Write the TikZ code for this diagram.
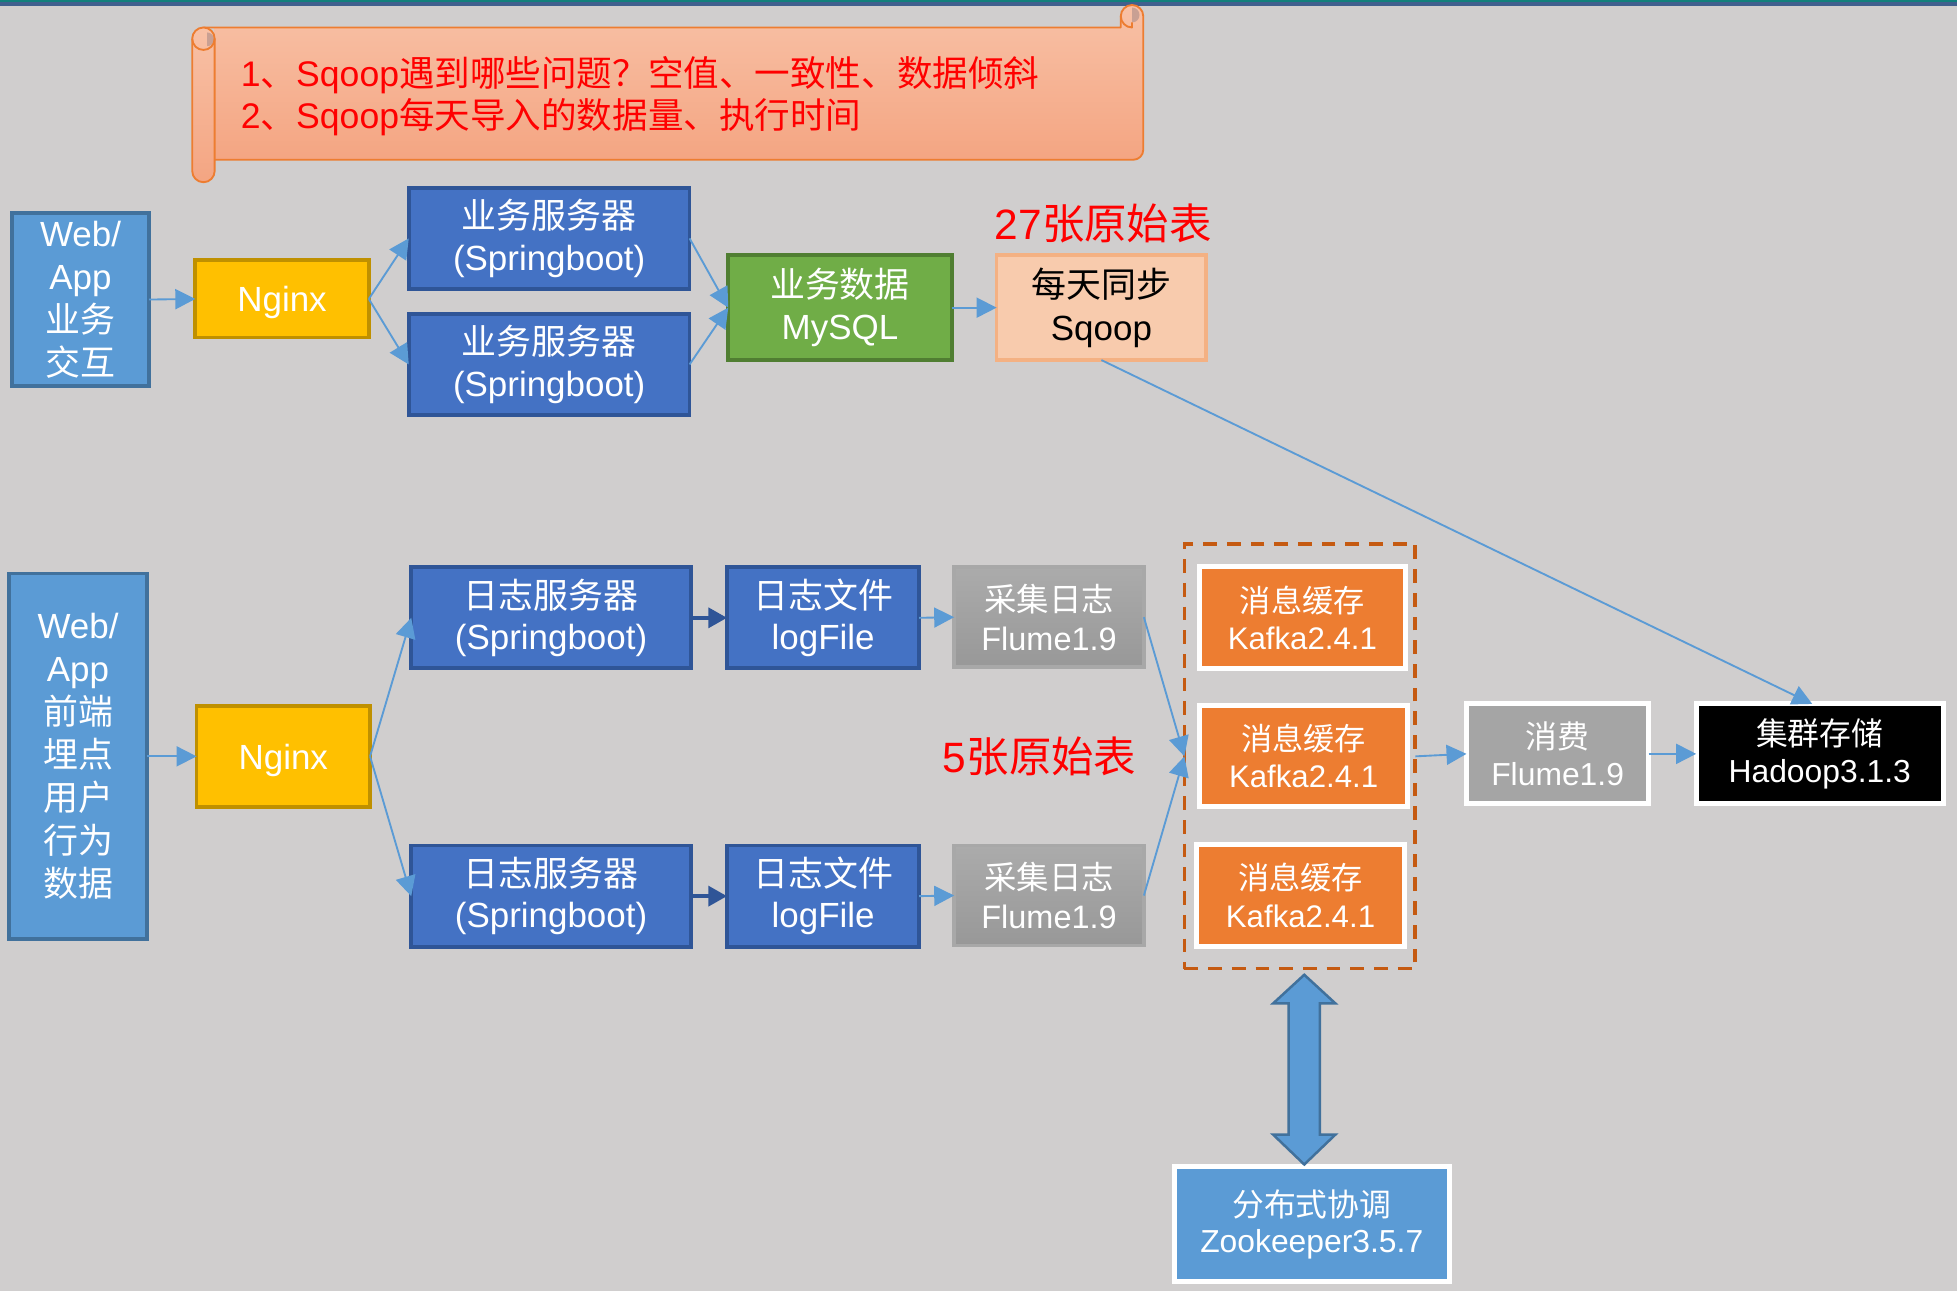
\documentclass[tikz,border=0pt]{standalone}
\usepackage{fontspec}
\setmainfont{Liberation Sans}
\newfontfamily\cjk{Noto Sans CJK SC}
\usetikzlibrary{arrows.meta,calc}
\newcommand\zh[1]{{\cjk #1}}
\definecolor{bgc}{HTML}{D0CECE}
\definecolor{stripteal}{HTML}{12807C}
\definecolor{stripblue}{HTML}{40608E}
\definecolor{bantop}{HTML}{F8C1A6}
\definecolor{banbot}{HTML}{F4A582}
\definecolor{banline}{HTML}{ED7D31}
\definecolor{banshadow}{HTML}{C9A093}
\definecolor{lbfill}{HTML}{5B9BD5}
\definecolor{lbline}{HTML}{41719C}
\definecolor{ngfill}{HTML}{FFC000}
\definecolor{ngline}{HTML}{BF9000}
\definecolor{srvfill}{HTML}{4472C4}
\definecolor{srvline}{HTML}{2F5597}
\definecolor{myfill}{HTML}{70AD47}
\definecolor{myline}{HTML}{507E32}
\definecolor{sqfill}{HTML}{F8CBAD}
\definecolor{sqline}{HTML}{F4B183}
\definecolor{kafill}{HTML}{ED7D31}
\definecolor{dashc}{HTML}{C55A11}
\definecolor{grayfill}{HTML}{A5A5A5}
\definecolor{graytop}{HTML}{ABABAB}
\definecolor{graybot}{HTML}{989898}
\definecolor{grayline}{HTML}{A8A8A8}
\begin{document}
\begin{tikzpicture}[x=1pt,y=1pt,
  every node/.style={inner sep=0pt,outer sep=0pt},
  box/.style={rectangle,align=center,text=white,font=\fontsize{28}{33}\selectfont},
  webapp/.style={box,fill=lbfill,draw=lbline,line width=3pt,font=\fontsize{28}{34.5}\selectfont},
  nginxbox/.style={box,fill=ngfill,draw=ngline,line width=3pt,text depth=0pt},
  srvbox/.style={box,fill=srvfill,draw=srvline,line width=3pt},
  mybox/.style={box,fill=myfill,draw=myline,line width=3pt,font=\fontsize{28}{34}\selectfont},
  sqbox/.style={box,fill=sqfill,draw=sqline,line width=3pt,text=black,font=\fontsize{28}{34}\selectfont},
  flbox/.style={box,top color=graytop,bottom color=graybot,draw=grayline,line width=3pt,font=\fontsize{26}{31}\selectfont},
  kabox/.style={box,fill=kafill,draw=white,line width=4pt,font=\fontsize{25}{30}\selectfont},
  xfbox/.style={box,fill=grayfill,draw=white,line width=4pt,font=\fontsize{25.5}{30}\selectfont},
  hdbox/.style={box,fill=black,draw=white,line width=4pt,font=\fontsize{25.5}{30}\selectfont},
  zkbox/.style={box,fill=lbfill,draw=white,line width=4pt,font=\fontsize{25.5}{29.5}\selectfont},
  dashbox/.style={rectangle,draw=dashc,line width=3pt,dash pattern=on 11pt off 8pt},
  redlabel/.style={text=red,font=\fontsize{34}{40}\selectfont},
  conn/.style={draw=lbfill,line width=1.5pt,-{Triangle[length=16pt,width=16pt]}},
  dconn/.style={draw=srvline,line width=3pt,-{Triangle[length=15pt,width=16pt]}},
  banfill/.style={top color=bantop,bottom color=banbot},
  banedge/.style={draw=banline,line width=1.5pt,line join=round}
]
\useasboundingbox (0,0) rectangle (1568,-1034);
\fill[bgc] (0,0) rectangle (1568,-1034);
\fill[stripblue] (0,-1.5) rectangle (1568,-4.5);
\fill[stripteal] (0,0) rectangle (1568,-1.6);

% ---- banner (horizontal scroll) ----
\shade[banfill] (172,-22) -- (898,-22) -- (898,-13) arc[start angle=180,end angle=0,radius=9pt]
  -- (916,-120) arc[start angle=0,end angle=-90,radius=8pt] -- (172,-128) -- cycle;
\fill[banshadow] (907,-6) arc[start angle=90,end angle=-90,radius=6pt] -- cycle;
\draw[banedge] (163,-22) -- (898,-22) -- (898,-13) arc[start angle=180,end angle=0,radius=9pt]
  -- (916,-120) arc[start angle=0,end angle=-90,radius=8pt] -- (172,-128);
\draw[banedge] (898,-13) arc[start angle=180,end angle=270,radius=9pt] -- (907,-18);
\shade[banfill] (154,-31) -- (154,-137) arc[start angle=180,end angle=360,radius=9pt]
  -- (172,-31) arc[start angle=0,end angle=180,radius=9pt] -- cycle;
\fill[banshadow] (166,-26) arc[start angle=90,end angle=-90,radius=5.5pt] -- cycle;
\draw[banedge] (154,-31) -- (154,-137) arc[start angle=180,end angle=360,radius=9pt]
  -- (172,-31) arc[start angle=0,end angle=180,radius=9pt] -- cycle;
\draw[banedge] (154,-31) arc[start angle=180,end angle=360,radius=9pt];
\node[anchor=west,align=left,text=red,font=\fontsize{28.5}{34}\selectfont] (bantext) at (193,-77)
  {1\zh{、}Sqoop\zh{遇到哪些问题？空值、一致性、数据倾斜}\\2\zh{、}Sqoop\zh{每天导入的数据量、执行时间}};

% ---- top row ----
\node[webapp,minimum width=110pt,minimum height=139pt] (wa1) at (64.5,-240) {Web/\\App\\\zh{业务}\\\zh{交互}};
\node[nginxbox,minimum width=139pt,minimum height=62pt] (ng1) at (226,-239.5) {Nginx};
\node[srvbox,minimum width=225pt,minimum height=81pt] (s1) at (440,-191) {\zh{业务服务器}\\(Springboot)};
\node[srvbox,minimum width=225pt,minimum height=81pt] (s2) at (440,-292) {\zh{业务服务器}\\(Springboot)};
\node[mybox,minimum width=179pt,minimum height=84pt] (my) at (673,-246.5) {\zh{业务数据}\\MySQL};
\node[sqbox,minimum width=168pt,minimum height=84pt] (sq) at (882.5,-246.5) {\zh{每天同步}\\Sqoop};
\node[redlabel] (lab27) at (884,-179) {27\zh{张原始表}};

% ---- bottom rows ----
\node[webapp,minimum width=110pt,minimum height=293pt] (wa2) at (62.5,-606)
  {Web/\\App\\\zh{前端}\\\zh{埋点}\\\zh{用户}\\\zh{行为}\\\zh{数据}};
\node[nginxbox,minimum width=139pt,minimum height=81pt] (ng2) at (227,-606) {Nginx};
\node[srvbox,minimum width=224pt,minimum height=81pt] (l1) at (441.5,-495) {\zh{日志服务器}\\(Springboot)};
\node[srvbox,minimum width=224pt,minimum height=81pt] (l2) at (441.5,-718) {\zh{日志服务器}\\(Springboot)};
\node[srvbox,minimum width=154pt,minimum height=81pt] (lf1) at (659.5,-495) {\zh{日志文件}\\logFile};
\node[srvbox,minimum width=154pt,minimum height=81pt] (lf2) at (659.5,-718) {\zh{日志文件}\\logFile};
\node[flbox,minimum width=152pt,minimum height=80pt] (fl1) at (840.5,-494.5) {\zh{采集日志}\\Flume1.9};
\node[flbox,minimum width=152pt,minimum height=80pt] (fl2) at (840.5,-717.5) {\zh{采集日志}\\Flume1.9};
\node[redlabel] (lab5) at (833,-606) {5\zh{张原始表}};

\node[dashbox,minimum width=185pt,minimum height=340pt] (kbox) at (1041.5,-606) {};
\node[kabox,minimum width=165pt,minimum height=82pt] (k1) at (1043.5,-495) {\zh{消息缓存}\\Kafka2.4.1};
\node[kabox,minimum width=167pt,minimum height=81pt] (k2) at (1044.5,-605.5) {\zh{消息缓存}\\Kafka2.4.1};
\node[kabox,minimum width=166pt,minimum height=81pt] (k3) at (1042,-717.5) {\zh{消息缓存}\\Kafka2.4.1};
\node[xfbox,minimum width=146pt,minimum height=80pt] (xf) at (1248,-604) {\zh{消费}\\Flume1.9};
\node[hdbox,minimum width=198pt,minimum height=80pt] (hd) at (1458,-604) {\zh{集群存储}\\Hadoop3.1.3};
\node[zkbox,minimum width=220pt,minimum height=92pt] (zk) at (1051,-981) {\zh{分布式协调}\\Zookeeper3.5.7};

% ---- connectors ----
\draw[conn] (wa1.east) -- (ng1.west);
\draw[conn] (ng1.east) -- (s1.west);
\draw[conn] (ng1.east) -- (s2.west);
\draw[conn] (s1.east) -- (my.west);
\draw[conn] (s2.east) -- (my.west);
\draw[conn] (my.east) -- (sq.west);
\draw[conn] (sq.south) -- ([xshift=-6pt]hd.north);

\draw[conn] (wa2.east) -- (ng2.west);
\draw[conn] (ng2.east) -- (l1.west);
\draw[conn] (ng2.east) -- (l2.west);
\draw[dconn] (l1.east) -- (lf1.west);
\draw[dconn] (l2.east) -- (lf2.west);
\draw[conn] (lf1.east) -- (fl1.west);
\draw[conn] (lf2.east) -- (fl2.west);
\draw[conn] (fl1.east) -- (kbox.west);
\draw[conn] (fl2.east) -- (kbox.west);
\draw[conn] (kbox.east) -- (xf.west);
\draw[conn] (xf.east) -- (hd.west);

% ---- double arrow kafka <-> zookeeper ----
\coordinate (dtop) at ($(kbox.south)+(3.5,-5)$);
\coordinate (dbot) at ($(zk.north)+(-6,2)$);
\filldraw[fill=lbfill,draw=lbline,line width=2pt,line join=miter]
  (dtop) -- ($(dtop)+(25,-23)$) -- ($(dtop)+(12.5,-23)$) -- ($(dbot)+(12.5,24)$) -- ($(dbot)+(25,24)$)
  -- (dbot) -- ($(dbot)+(-25,24)$) -- ($(dbot)+(-12.5,24)$) -- ($(dtop)+(-12.5,-23)$) -- ($(dtop)+(-25,-23)$) -- cycle;
\end{tikzpicture}
\end{document}
